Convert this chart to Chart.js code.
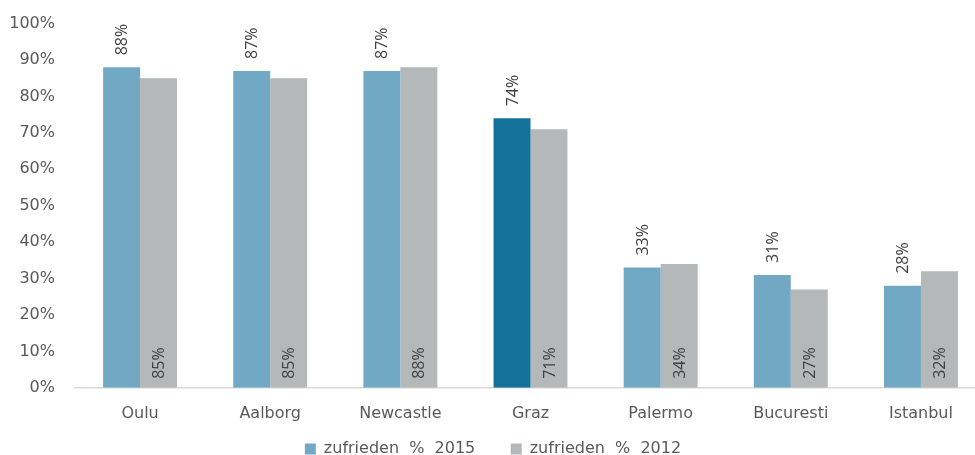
<!DOCTYPE html>
<html>
<head>
<meta charset="utf-8">
<script src="https://cdn.jsdelivr.net/npm/chart.js@4/dist/chart.umd.min.js"></script>
<style>
  html, body { margin: 0; padding: 0; background: #fff; overflow: hidden; }
  #wrap { width: 975px; height: 455px; overflow: hidden; }
  #zufriedenChart { display: block; margin-top: 2px; }
</style>
</head>
<body>
<div id="wrap"><canvas id="zufriedenChart" width="990" height="465"></canvas></div>
<script>
const cities = ["Oulu", "Aalborg", "Newcastle", "Graz", "Palermo", "Bucuresti", "Istanbul"];
const values2015 = [88, 87, 87, 74, 33, 31, 28];
const values2012 = [85, 85, 88, 71, 34, 27, 32];
const yTicks = [0, 10, 20, 30, 40, 50, 60, 70, 80, 90, 100];
const seriesNames = ["zufrieden  %  2015", "zufrieden  %  2012"];

const blue = "#71A9C4";
const grazBlue = "#13719A";
const grey = "#B5B8B8";
const axisFont = "'DejaVu Sans', sans-serif";

// labels: 2015 above the bar, 2012 inside the bar at its foot, both turned upright
const barLabels = {
    id: "barLabels",
    afterDatasetsDraw(chart) {
        const ctx = chart.ctx;
        ctx.save();
        ctx.font = "16px 'Open Sans', sans-serif";
        ctx.fillStyle = "#404040";
        ctx.textAlign = "left";
        ctx.textBaseline = "middle";
        chart.data.datasets.forEach(function (ds, i) {
            const meta = chart.getDatasetMeta(i);
            meta.data.forEach(function (bar, j) {
                const txt = ds.data[j] + "%";
                const y = i === 0 ? bar.y - 12 : bar.base - 9;
                ctx.save();
                ctx.translate(bar.x + 1, y);
                ctx.rotate(-Math.PI / 2);
                ctx.fillText(txt, 0, 0);
                ctx.restore();
            });
        });
        ctx.restore();
    }
};

new Chart(document.getElementById("zufriedenChart"), {
    type: "bar",
    data: {
        labels: cities,
        datasets: [{
            label: seriesNames[0],
            data: values2015,
            backgroundColor: cities.map(c => c === "Graz" ? grazBlue : blue),
            borderWidth: 0
        }, {
            label: seriesNames[1],
            data: values2012,
            backgroundColor: grey,
            borderWidth: 0
        }]
    },
    options: {
        responsive: false,
        animation: false,
        layout: { padding: { left: 0, right: 4, top: 0, bottom: 0 } },
        datasets: {
            bar: { categoryPercentage: 0.568, barPercentage: 1 }
        },
        scales: {
            x: {
                grid: { display: false },
                border: { display: true, color: "#D9D9D9", width: 1.5 },
                ticks: {
                    color: "#595959",
                    font: { family: axisFont, size: 16 },
                    padding: 8
                }
            },
            y: {
                min: 0,
                max: 100,
                afterBuildTicks(axis) {
                    axis.ticks = yTicks.map(v => ({ value: v }));
                },
                afterFit(axis) {
                    axis.width = 75;
                },
                grid: { display: false },
                border: { display: false },
                ticks: {
                    color: "#595959",
                    font: { family: axisFont, size: 16 },
                    padding: 12,
                    callback: v => v + "%"
                }
            }
        },
        plugins: {
            legend: {
                position: "bottom",
                labels: {
                    color: "#595959",
                    font: { family: axisFont, size: 16 },
                    boxWidth: 11,
                    boxHeight: 11,
                    padding: 10,
                    generateLabels(chart) {
                        // a few trailing spaces widen the gap between the two entries
                        return chart.data.datasets.map((ds, i) => ({
                            text: i === 0 ? ds.label + "\u00A0\u00A0\u00A0\u00A0\u00A0" : ds.label,
                            fillStyle: i === 0 ? blue : grey,
                            strokeStyle: i === 0 ? blue : grey,
                            lineWidth: 0,
                            fontColor: "#595959",
                            datasetIndex: i
                        }));
                    }
                }
            },
            tooltip: { enabled: false }
        }
    },
    plugins: [barLabels]
});
</script>
</body>
</html>
